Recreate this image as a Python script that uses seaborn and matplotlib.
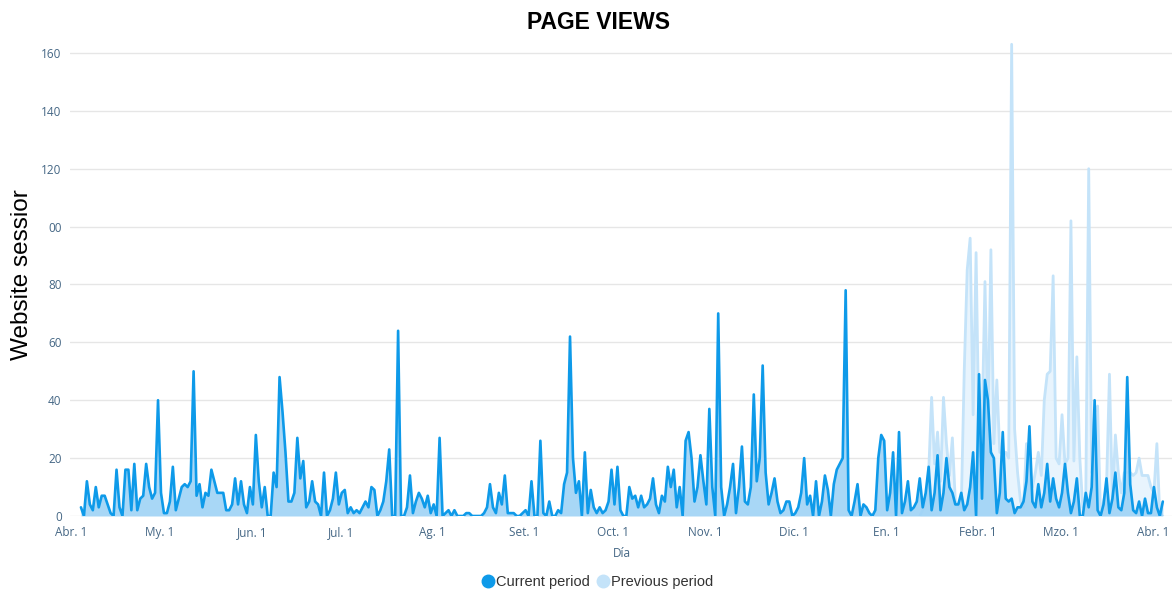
import pandas as pd
import numpy as np
import matplotlib
matplotlib.use('Agg')
import matplotlib.pyplot as plt
from matplotlib.transforms import ScaledTranslation
from matplotlib.lines import Line2D
import seaborn as sns

# Daily sessions, current period (Abr. 1 -> Abr. 1)
start_date = '2022-04-01'
current = [
    3, 0, 12, 4, 2, 10, 3, 7, 7, 4, 1, 0, 16, 3, 0, 16, 16, 2, 18, 2,
    6, 7, 18, 10, 6, 8, 40, 8, 1, 1, 5, 17, 2, 6, 10, 11, 10, 12, 50, 7,
    11, 3, 8, 7, 16, 12, 8, 8, 8, 2, 2, 4, 13, 4, 12, 4, 1, 10, 4, 28,
    12, 3, 10, 0, 0, 15, 10, 48, 36, 22, 5, 5, 8, 27, 13, 19, 3, 5, 12, 5,
    4, 0, 15, 0, 2, 6, 15, 4, 8, 9, 1, 3, 1, 2, 1, 3, 5, 3, 10, 9,
    0, 2, 5, 12, 23, 0, 0, 64, 0, 0, 3, 14, 1, 5, 8, 6, 3, 7, 1, 4,
    0, 27, 0, 1, 2, 0, 2, 0, 0, 0, 1, 1, 0, 0, 0, 0, 1, 3, 11, 3,
    1, 8, 4, 14, 1, 1, 1, 0, 0, 1, 2, 0, 12, 0, 0, 26, 1, 0, 5, 0,
    0, 2, 1, 11, 15, 62, 20, 8, 12, 0, 22, 1, 9, 3, 1, 3, 1, 2, 5, 16,
    4, 17, 2, 0, 0, 10, 6, 7, 3, 7, 3, 4, 6, 13, 4, 1, 7, 5, 17, 10,
    16, 3, 10, 0, 26, 29, 20, 5, 10, 21, 12, 4, 37, 10, 0, 70, 10, 0, 4, 10,
    18, 1, 10, 24, 5, 4, 10, 42, 12, 20, 52, 15, 4, 8, 13, 5, 1, 2, 5, 5,
    0, 1, 3, 8, 20, 4, 7, 0, 12, 0, 5, 14, 9, 0, 11, 16, 18, 20, 78, 2,
    0, 5, 11, 0, 4, 3, 1, 0, 2, 20, 28, 26, 2, 8, 22, 0, 29, 1, 5, 12,
    2, 3, 5, 13, 3, 8, 17, 2, 8, 21, 2, 8, 20, 10, 8, 4, 4, 8, 2, 4,
    10, 22, 0, 49, 6, 47, 40, 22, 20, 1, 8, 29, 6, 5, 6, 1, 3, 3, 5, 12,
    31, 5, 3, 11, 3, 8, 18, 5, 13, 6, 3, 8, 18, 8, 1, 5, 13, 0, 0, 8,
    3, 10, 40, 2, 0, 4, 13, 1, 6, 15, 3, 2, 8, 48, 11, 2, 1, 5, 0, 6,
    1, 1, 10, 3, 0, 5,
]

# Previous period, only visible from mid January on
prev_start = '2023-01-09'
previous = [
    0, 2, 5, 15, 41, 18, 29, 12, 41, 25, 14, 27, 5, 3, 3, 50, 85, 96, 35, 91,
    25, 30, 81, 30, 92, 25, 47, 22, 22, 22, 20, 163, 30, 15, 5, 3, 25, 15, 10, 15,
    22, 14, 40, 49, 50, 83, 20, 18, 35, 18, 20, 102, 19, 55, 20, 3, 5, 120, 15, 36,
    38, 0, 5, 10, 49, 5, 28, 15, 8, 15, 15, 15, 14, 15, 20, 14, 14, 14, 10, 8,
    25, 0, 0,
]

month_labels = ['Abr. 1', 'My. 1', 'Jun. 1', 'Jul. 1', 'Ag. 1', 'Set. 1', 'Oct. 1',
                'Nov. 1', 'Dic. 1', 'En. 1', 'Febr. 1', 'Mzo. 1', 'Abr. 1']
y_ticks = [0, 20, 40, 60, 80, 100, 120, 140, 160]
y_tick_labels = ['0', '20', '40', '60', '80', '00', '120', '140', '160']

cur_df = pd.DataFrame({'date': pd.date_range(start_date, periods=len(current), freq='D'),
                       'sessions': current})
prev_df = pd.DataFrame({'date': pd.date_range(prev_start, periods=len(previous), freq='D'),
                        'sessions': previous})

sns.set_theme(style='white')
plt.rcParams['font.family'] = ['Liberation Sans', 'DejaVu Sans']

cur_line = '#0e9ae9'
cur_fill = '#9fd3f6'
prev_line = '#c4e3f9'
prev_fill = '#e5f3fd'
tick_col = '#456785'
tick_font = ['Open Sans', 'DejaVu Sans']

fig = plt.figure(figsize=(11.72, 5.97), dpi=100)
ax = fig.add_axes([70 / 1172, 1 - 516 / 597, 1102 / 1172, 477.5 / 597])

# previous period behind
ax.fill_between(prev_df['date'], prev_df['sessions'], color=prev_fill, alpha=0.85, lw=0, zorder=1)
sns.lineplot(data=prev_df, x='date', y='sessions', ax=ax, color=prev_line, lw=2, zorder=2)

# current period on top
ax.fill_between(cur_df['date'], cur_df['sessions'], color=cur_fill, alpha=0.9, lw=0, zorder=3)
sns.lineplot(data=cur_df, x='date', y='sessions', ax=ax, color=cur_line, lw=1.9, zorder=4)

t0 = pd.Timestamp(start_date)
ax.set_xlim(t0 - pd.Timedelta(days=3.7), t0 + pd.Timedelta(days=368.1))
ax.set_ylim(0, 165)

month_ticks = pd.date_range(start_date, periods=len(month_labels), freq='MS')
ax.set_xticks(month_ticks)
ax.set_xticklabels(month_labels, fontsize=8.5, color=tick_col, family=tick_font)
ax.set_yticks(y_ticks)
ax.set_yticklabels(y_tick_labels, fontsize=8.5, color=tick_col, family=tick_font)
ax.tick_params(axis='both', length=0, pad=6)
ax.tick_params(axis='x', pad=7)
for lab in ax.get_xticklabels():
    lab.set_transform(lab.get_transform() + ScaledTranslation(-10 / 100, 0, fig.dpi_scale_trans))

ax.grid(axis='y', color='#e6e6e6', lw=1)
ax.set_axisbelow(True)
for s in ax.spines.values():
    s.set_visible(False)

ax.set_xlabel('Día', fontsize=8.5, color=tick_col, family=tick_font)
ax.xaxis.set_label_coords(0.501, -0.064)
ax.set_ylabel('Website sessior', fontsize=17.5, color='black')
ax.yaxis.set_label_coords(-0.034, 0.505)

fig.text(0.511, 0.963, 'PAGE VIEWS', ha='center', va='center', fontsize=16.5,
         fontweight='bold', color='black')

handles = [Line2D([], [], marker='o', ls='', markersize=9, color=cur_line),
           Line2D([], [], marker='o', ls='', markersize=9, color=prev_line)]
fig.legend(handles, ['Current period', 'Previous period'], loc='center',
           bbox_to_anchor=(0.51, 1 - 582 / 597), ncol=2, frameon=False,
           fontsize=10.5, handlelength=0.8, handletextpad=0.15, columnspacing=0.45,
           labelcolor='#333333')

fig.savefig('out.png', dpi=100)
